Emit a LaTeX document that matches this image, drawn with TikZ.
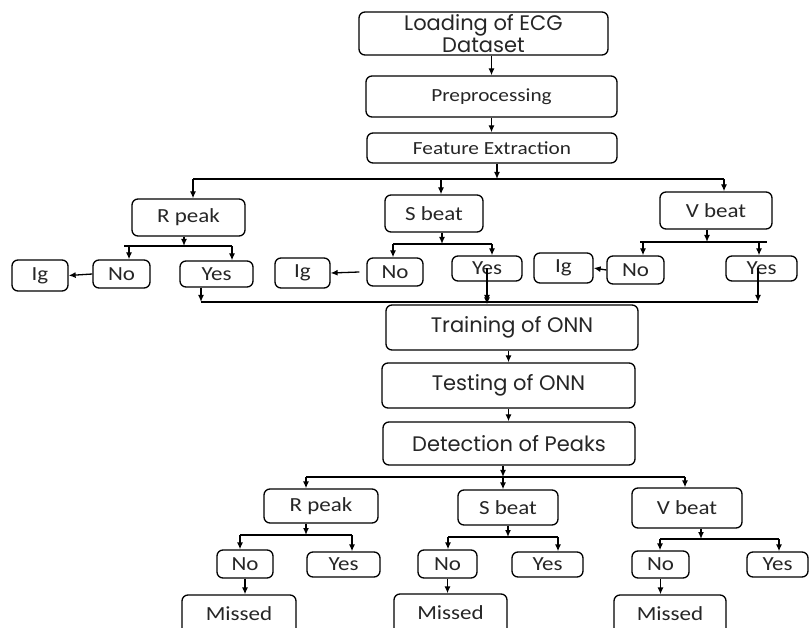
\documentclass[tikz,border=0pt]{standalone}
\usepackage{fontspec}
\usetikzlibrary{arrows.meta}
\newfontfamily\cgfont{Poppins}
\newfontfamily\calfont[FakeStretch=1.15]{Carlito}
\begin{document}
\begin{tikzpicture}[x=1pt,y=-1pt,
  box/.style={draw=black, line width=1.3pt, rounded corners=6pt, inner sep=0pt, align=center, text=black!85},
  cg/.style={box, font=\cgfont\fontsize{21}{19.5}\selectfont},
  cal/.style={box, font=\calfont\fontsize{20}{20}\selectfont},
  calbig/.style={box, font=\calfont\fontsize{18.5}{19}\selectfont},
  ln/.style={draw=black, line width=1.3pt},
  arr/.style={ln, -{Latex[length=7pt,width=6pt]}}
]
\clip (0,0) rectangle (812,628);
\fill[white] (0,0) rectangle (812,628);
% ---------- top chain ----------
\node[cg, minimum width=249pt, minimum height=43pt] (load) at (483.5,33.5) {Loading of ECG\\Dataset};
\node[calbig, minimum width=251pt, minimum height=41pt] (pre) at (491.5,96.5) {Preprocessing};
\node[calbig, minimum width=250pt, minimum height=30pt] (fe) at (492,148) {Feature Extraction};
% ---------- first level ----------
\node[cal, minimum width=113pt, minimum height=37pt] (rp1) at (188.5,217.5) {R peak};
\node[cal, minimum width=98pt, minimum height=37pt] (sb1) at (434,213.5) {S beat};
\node[cal, minimum width=112pt, minimum height=37pt] (vb1) at (716,210.5) {V beat};
\node[cal, minimum width=57pt, minimum height=28pt] (rno1) at (121.5,274) {No};
\node[cal, minimum width=56pt, minimum height=31pt] (rig1) at (40,275.5) {Ig};
\node[cal, minimum width=73pt, minimum height=26pt] (ryes1) at (216.5,274) {Yes};
\node[cal, minimum width=56pt, minimum height=28pt] (sno1) at (395,272) {No};
\node[cal, minimum width=55pt, minimum height=30pt] (sig1) at (302.5,273) {Ig};
\node[cal, minimum width=70pt, minimum height=25pt] (syes1) at (487,268.5) {Yes};
\node[cal, minimum width=57pt, minimum height=28pt] (vno1) at (635.5,270) {No};
\node[cal, minimum width=59pt, minimum height=30pt] (vig1) at (563.5,268) {Ig};
\node[cal, minimum width=71pt, minimum height=25pt] (vyes1) at (761.5,268.5) {Yes};
% ---------- middle chain ----------
\node[cg, minimum width=252pt, minimum height=45pt] (train) at (512,327.5) {Training of ONN};
\node[cg, minimum width=253pt, minimum height=45pt] (test) at (508.5,385.5) {Testing of ONN};
\node[cg, minimum width=252pt, minimum height=43pt] (det) at (509,443.5) {Detection of Peaks};
% ---------- second level ----------
\node[cal, minimum width=114pt, minimum height=34pt] (rp2) at (321,506) {R peak};
\node[cal, minimum width=100pt, minimum height=35pt] (sb2) at (508,507.5) {S beat};
\node[cal, minimum width=110pt, minimum height=40pt] (vb2) at (687,508) {V beat};
\node[cal, minimum width=56pt, minimum height=28pt] (rno2) at (245,564) {No};
\node[cal, minimum width=73pt, minimum height=25pt] (ryes2) at (343.5,564.5) {Yes};
\node[cal, minimum width=59pt, minimum height=28pt] (sno2) at (447.5,564) {No};
\node[cal, minimum width=71pt, minimum height=25pt] (syes2) at (547.5,564.5) {Yes};
\node[cal, minimum width=57pt, minimum height=27pt] (vno2) at (660.5,564.5) {No};
\node[cal, minimum width=61pt, minimum height=25pt] (vyes2) at (777.5,564.5) {Yes};
\node[cal, minimum width=114pt, minimum height=45pt, text depth=0pt] (rmiss) at (239,617.5) {\raisebox{8pt}{Missed}};
\node[cal, minimum width=113pt, minimum height=46pt, text depth=0pt] (smiss) at (450.5,617) {\raisebox{8pt}{Missed}};
\node[cal, minimum width=112pt, minimum height=45pt, text depth=0pt] (vmiss) at (670,617.5) {\raisebox{8pt}{Missed}};
% ---------- junction coordinates ----------
\coordinate (b1) at (497,179);
\coordinate (b1L) at (193,179);
\coordinate (b1S) at (441,179);
\coordinate (b1R) at (724,179);
\coordinate (r1) at (184,246);
\coordinate (r1L) at (124,246);
\coordinate (r1N) at (129,246);
\coordinate (r1Y) at (232,246);
\coordinate (s1) at (442,244);
\coordinate (s1N) at (393,244);
\coordinate (s1Y) at (492,244);
\coordinate (v1) at (707,242);
\coordinate (v1L) at (640,242);
\coordinate (v1N) at (643,242);
\coordinate (v1Y) at (759,242);
\coordinate (v1R) at (767,242);
\coordinate (c1) at (201,302);
\coordinate (c2) at (487,302);
\coordinate (c3) at (758,302);
\coordinate (b2) at (503,477);
\coordinate (b2L) at (306,477);
\coordinate (b2R) at (685,477);
\coordinate (r2) at (306,535);
\coordinate (r2N) at (240,535);
\coordinate (r2Y) at (352,535);
\coordinate (s2) at (508,537);
\coordinate (s2N) at (448,537);
\coordinate (s2Y) at (558,537);
\coordinate (v2) at (701,539);
\coordinate (v2N) at (660,539);
\coordinate (v2Y) at (779,539);
% ---------- top connectors ----------
\draw[arr] (pre.north |- load.south) -- (pre.north);
\draw[arr] (pre.south) -- (pre.south |- fe.north);
\draw[arr] (fe.south -| b1) -- (b1);
\draw[ln] (b1L) -- (b1R);
\draw[arr] (b1L) -- (b1L |- rp1.north);
\draw[arr] (b1S) -- (b1S |- sb1.north);
\draw[arr] (b1R) -- (b1R |- vb1.north);
% R peak (first)
\draw[arr] (rp1.south -| r1) -- (r1);
\draw[ln] (r1L) -- (r1Y);
\draw[arr] (r1N) -- (r1N |- rno1.north);
\draw[arr] (r1Y) -- (r1Y |- ryes1.north);
\draw[arr] (rno1.west) -- (rig1.east);
\draw[arr] (ryes1.south -| c1) -- (c1);
% S beat (first)
\draw[arr] (sb1.south -| s1) -- (s1);
\draw[ln] (s1N) -- (s1Y);
\draw[arr] (s1N) -- (s1N |- sno1.north);
\draw[arr] (s1Y) -- (s1Y |- syes1.north);
\draw[arr] ([xshift=-7pt]sno1.west) -- (sig1.east);
\draw[arr] (syes1.center -| c2) -- (c2);
% V beat (first)
\draw[arr] (vb1.south -| v1) -- (v1);
\draw[ln] (v1L) -- (v1R);
\draw[arr] (v1N) -- (v1N |- vno1.north);
\draw[arr] (v1Y) -- (v1Y |- vyes1.north);
\draw[arr] (vno1.west) -- (vig1.east);
\draw[arr] (vyes1.center -| c3) -- (c3);
% collect to training
\draw[ln] (c1) -- (c3);
\draw[arr] (c2) -- (c2 |- train.north);
% ---------- middle connectors ----------
\draw[arr] (train.south -| test.north) -- (test.north);
\draw[arr] (test.south) -- (test.south |- det.north);
% ---------- bottom connectors ----------
\draw[arr] (det.south -| b2) -- (b2);
\draw[ln] (b2L) -- (b2R);
\draw[arr] (b2L) -- (b2L |- rp2.north);
\draw[arr] (b2) -- (b2 |- sb2.north);
\draw[arr] (b2R) -- (b2R |- vb2.north);
% R peak (second)
\draw[arr] (rp2.south -| r2) -- (r2);
\draw[ln] (r2N) -- (r2Y);
\draw[arr] (r2N) -- (r2N |- rno2.north);
\draw[arr] (r2Y) -- (r2Y |- ryes2.north);
\draw[arr] (rno2.south) -- (rno2.south |- rmiss.north);
% S beat (second)
\draw[arr] (sb2.south -| s2) -- (s2);
\draw[ln] (s2N) -- (s2Y);
\draw[arr] (s2N) -- (s2N |- sno2.north);
\draw[arr] (s2Y) -- (s2Y |- syes2.north);
\draw[arr] (sno2.south) -- (sno2.south |- smiss.north);
% V beat (second)
\draw[arr] (vb2.south -| v2) -- (v2);
\draw[ln] (v2N) -- (v2Y);
\draw[arr] (v2N) -- (v2N |- vno2.north);
\draw[arr] (v2Y) -- (v2Y |- vyes2.north);
\draw[arr] (vno2.south) -- (vno2.south |- vmiss.north);
\end{tikzpicture}
\end{document}
